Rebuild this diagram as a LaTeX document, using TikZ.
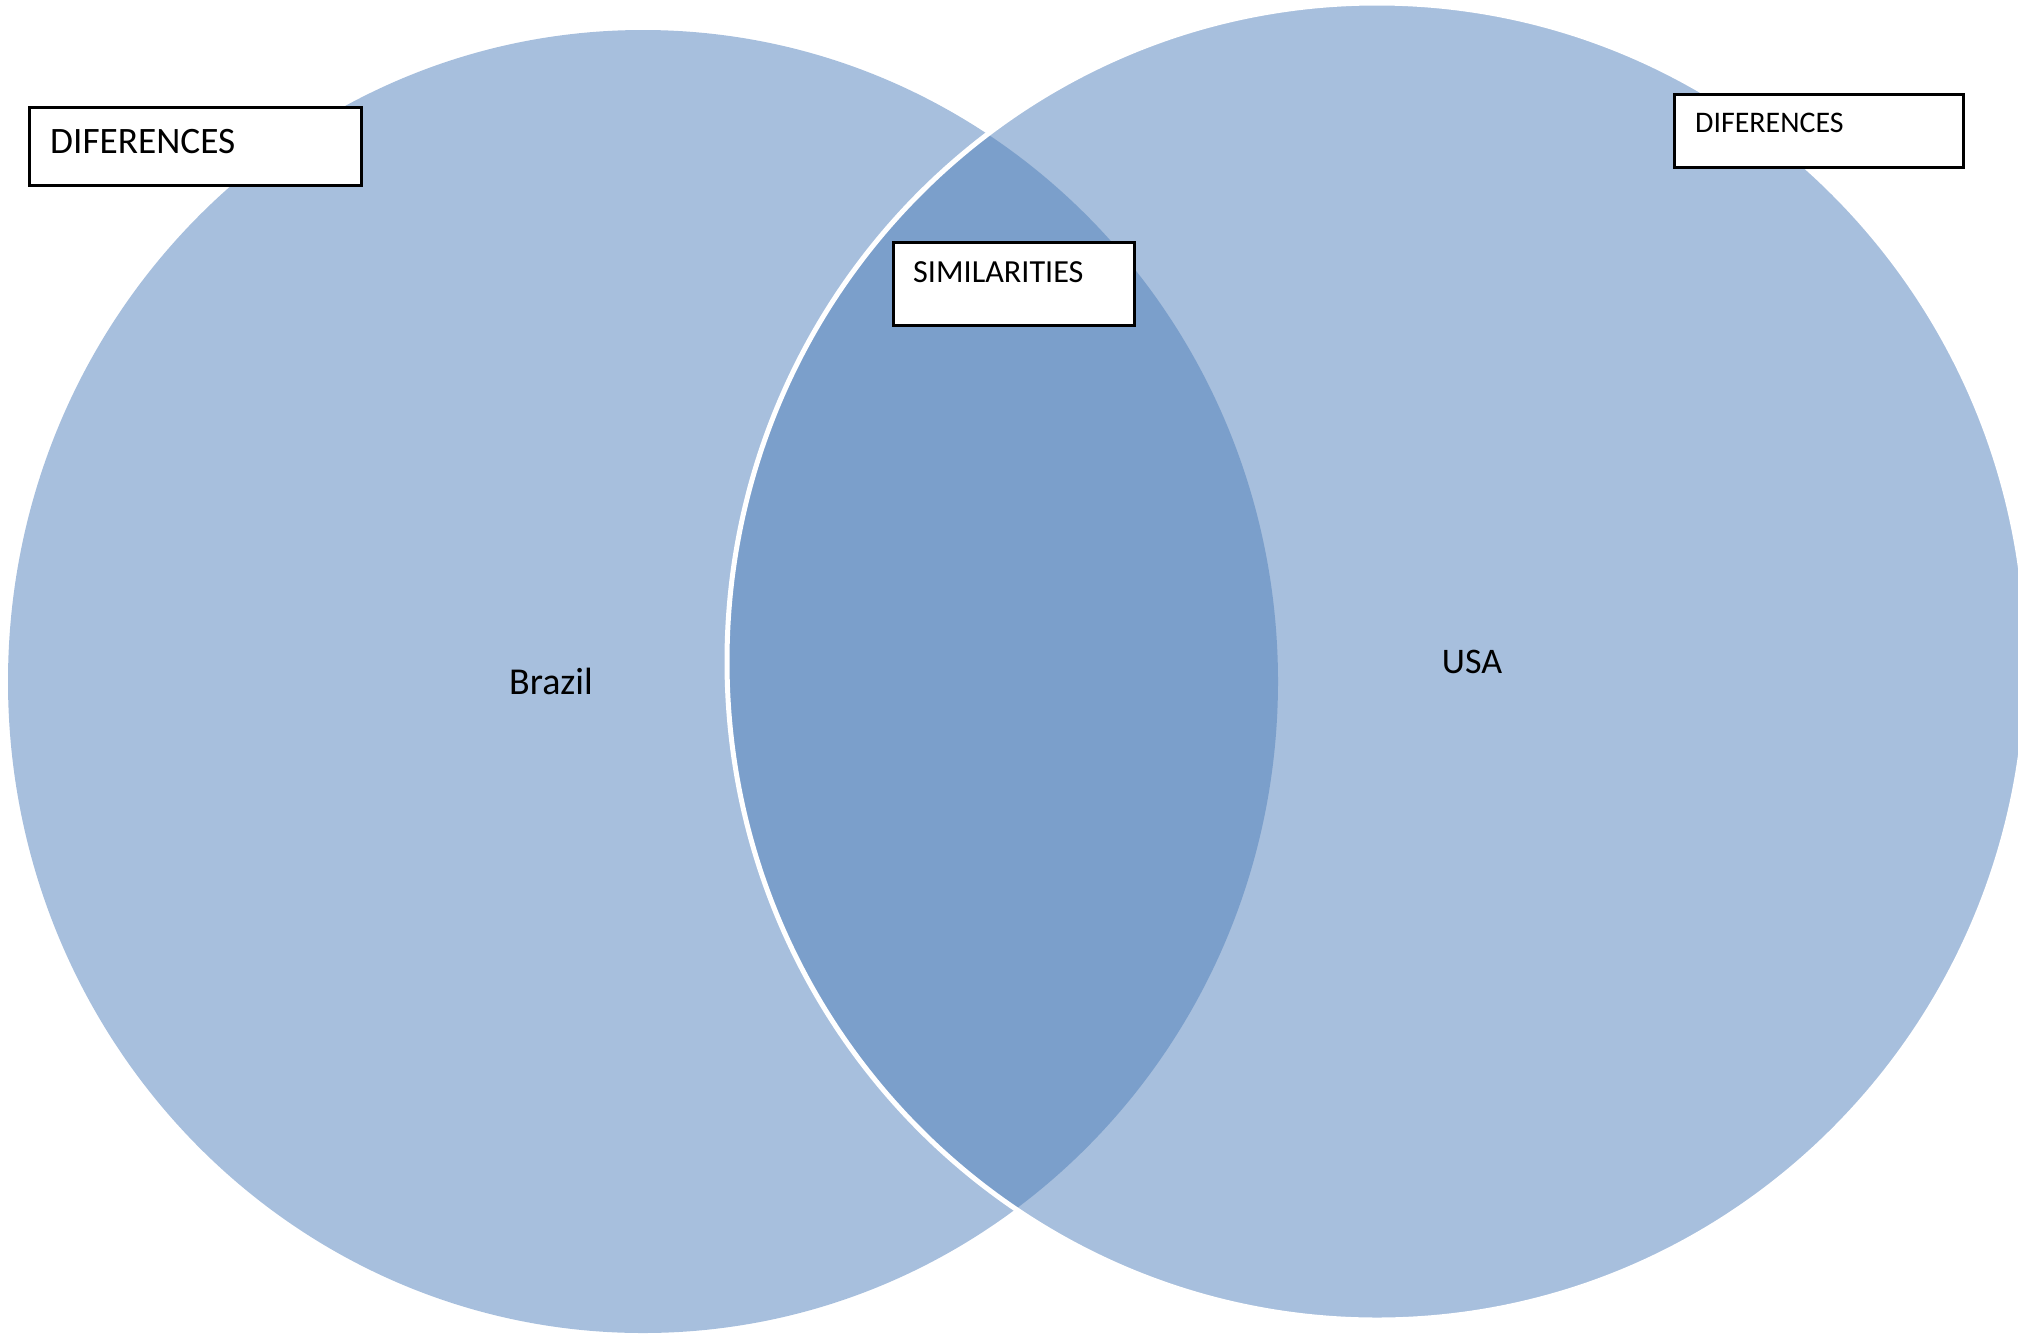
\documentclass[tikz,border=0pt]{standalone}
\usepackage{fontspec}
\setmainfont{Carlito}
\definecolor{vennlight}{RGB}{167,191,221}
\definecolor{venndark}{RGB}{123,159,203}
\tikzset{
  notebox/.style={draw=black, line width=2.5pt, fill=white, inner sep=0pt, anchor=north west},
  notetext/.style={anchor=base west, inner sep=0pt, text=black},
  setlabel/.style={anchor=base, inner sep=0pt, text=black}
}
\begin{document}
\begin{tikzpicture}[x=1pt, y=-1pt]
\useasboundingbox (0,0) rectangle (2018,1339);
\fill[vennlight] (643,681.5) ellipse [x radius=635pt, y radius=651.5pt];
\fill[vennlight] (1377,661.5) ellipse [x radius=650pt, y radius=658.5pt];
\begin{scope}
  \clip (643,681.5) ellipse [x radius=635pt, y radius=651.5pt];
  \fill[venndark] (1377,661.5) ellipse [x radius=650pt, y radius=658.5pt];
\end{scope}
\draw[white, line width=5pt] (1377,661.5) ellipse [x radius=650pt, y radius=658.5pt];
\node[setlabel, font=\fontsize{38}{44}\selectfont] (brazil) at (551,694) {Brazil};
\node[setlabel, font=\fontsize{36}{42}\selectfont] (usa) at (1472,673) {USA};
\node[notebox, minimum width=332pt, minimum height=78pt] (brazildiff) at (28,106) {};
\node[notetext, font=\fontsize{37.3}{43}\selectfont] (brazildifftext) at (50,153) {DIFERENCES};
\node[notebox, minimum width=241pt, minimum height=83pt] (similar) at (892,241) {};
\node[notetext, font=\fontsize{32.2}{38}\selectfont] (similartext) at (913,282) {SIMILARITIES};
\node[notebox, minimum width=289pt, minimum height=73pt] (usadiff) at (1673,93) {};
\node[notetext, font=\fontsize{29.9}{35}\selectfont] (usadifftext) at (1695,132) {DIFERENCES};
\end{tikzpicture}
\end{document}
